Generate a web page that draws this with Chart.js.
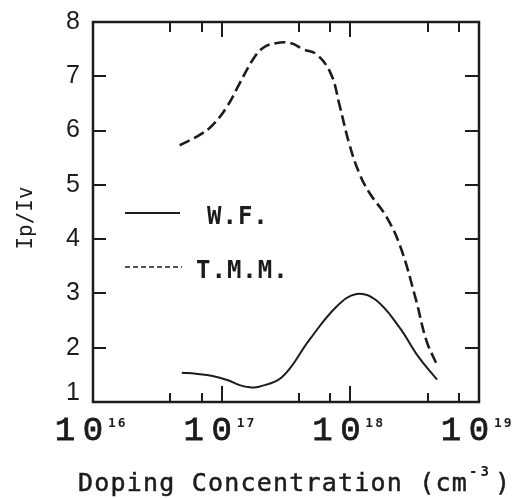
<!DOCTYPE html>
<html>
<head>
<meta charset="utf-8">
<script src="https://cdn.jsdelivr.net/npm/chart.js@4.4.1/dist/chart.umd.min.js"></script>
<style>
  html, body { margin: 0; padding: 0; background: #fff; }
  #wrap { width: 516px; height: 498px; }
</style>
</head>
<body>
<div id="wrap"><canvas id="ratioChart"></canvas></div>
<script>
// W.F. curve (solid)
var wfConc  = [4.9e16, 6.3e16, 8.5e16, 1.12e17, 1.38e17, 1.66e17, 1.95e17, 2.95e17, 4.79e17, 7.76e17, 1.12e18, 1.58e18, 2.4e18, 3.39e18, 4.72e18];
var wfRatio = [1.54,   1.52,   1.48,   1.40,    1.31,    1.27,    1.28,    1.46,    2.14,    2.75,    2.99,    2.88,    2.38,   1.83,    1.41];

// T.M.M. curve (dashed)
var tmmConc  = [4.72e16, 6.76e16, 8.5e16, 1.1e17, 1.38e17, 1.74e17, 2.09e17, 2.63e17, 3.47e17, 4.27e17, 5.5e17, 7.08e17, 8.22e17, 9.77e17, 1.17e18, 1.41e18, 1.91e18, 2.45e18, 3.24e18, 3.89e18, 4.72e18];
var tmmRatio = [5.73,    5.92,    6.10,   6.44,   6.87,    7.30,    7.52,    7.61,    7.61,    7.50,    7.40,   7.04,    6.48,    5.77,    5.22,    4.85,    4.41,    3.86,    2.88,    2.14,    1.68];

// axes
var xDecades = [16, 17, 18, 19];
var xMultipliers = [1, 2, 3, 4, 5, 6, 7, 8, 9];
var yTickLabels = [1, 2, 3, 4, 5, 6, 7, 8];

var xTickValues = [];
xDecades.forEach(function(d) {
    xMultipliers.forEach(function(m) {
        if (d < 19 || m === 1) xTickValues.push(m * Math.pow(10, d));
    });
});

function toPoints(xs, ys) {
    return xs.map(function(x, i) { return { x: x, y: ys[i] }; });
}

var ink = '#1c1c1c';

// frame, inward ticks, labels, legend and titles
var decorPlugin = {
    id: 'decor',
    afterDraw: function(chart) {
        var ctx = chart.ctx;
        var xs = chart.scales.x, ys = chart.scales.y;
        var a = chart.chartArea;
        ctx.save();
        ctx.strokeStyle = ink;
        ctx.fillStyle = ink;

        // frame
        ctx.lineWidth = 2.5;
        ctx.strokeRect(a.left, a.top, a.right - a.left, a.bottom - a.top);

        // x ticks, top and bottom
        ctx.lineWidth = 2;
        xs.ticks.forEach(function(t) {
            var px = Math.round(xs.getPixelForValue(t.value));
            var major = Math.abs(Math.log10(t.value) - Math.round(Math.log10(t.value))) < 1e-6;
            ctx.beginPath();
            ctx.moveTo(px, a.bottom);
            ctx.lineTo(px, a.bottom - (major ? 16 : 9));
            ctx.moveTo(px, a.top);
            ctx.lineTo(px, a.top + (major ? 15 : 10));
            ctx.stroke();
        });

        // y ticks, left and right
        ys.ticks.forEach(function(t) {
            var py = Math.round(ys.getPixelForValue(t.value));
            ctx.beginPath();
            ctx.moveTo(a.left, py);
            ctx.lineTo(a.left + 13, py);
            ctx.moveTo(a.right, py);
            ctx.lineTo(a.right - 14, py);
            ctx.stroke();
        });

        // y tick labels
        ctx.font = '25px "Liberation Sans"';
        ctx.textAlign = 'right';
        ctx.textBaseline = 'middle';
        yTickLabels.forEach(function(v) {
            var py = ys.getPixelForValue(v);
            if (v === 1) py -= 9;
            ctx.fillText(String(v), 80, py);
        });

        // x tick labels: 10^n
        xDecades.forEach(function(d) {
            var px = xs.getPixelForValue(Math.pow(10, d));
            ctx.font = '34px "Liberation Mono"';
            ctx.textAlign = 'center';
            ctx.textBaseline = 'alphabetic';
            ctx.lineWidth = 0.8;
            ctx.fillText('1', px - 28, 440);
            ctx.strokeText('1', px - 28, 440);
            ctx.fillText('0', px, 440);
            ctx.strokeText('0', px, 440);
            ctx.font = 'bold 13px "DejaVu Sans Mono"';
            ctx.textAlign = 'left';
            ctx.letterSpacing = '2px';
            ctx.fillText(String(d), px + 15, 427);
            ctx.letterSpacing = '0px';
        });

        // x title
        ctx.font = '25px "DejaVu Sans Mono"';
        ctx.textAlign = 'left';
        ctx.textBaseline = 'alphabetic';
        ctx.letterSpacing = '1.2px';
        var main = 'Doping Concentration (cm';
        ctx.lineWidth = 0.5;
        ctx.fillText(main, 78, 491);
        ctx.strokeText(main, 78, 491);
        var w = ctx.measureText(main).width;
        ctx.font = 'bold 14px "DejaVu Sans Mono"';
        ctx.letterSpacing = '3px';
        ctx.fillText('-3', 78 + w + 1, 476);
        var w2 = ctx.measureText('-3').width;
        ctx.font = '25px "DejaVu Sans Mono"';
        ctx.letterSpacing = '0px';
        ctx.fillText(')', 78 + w + w2 + 4, 491);
        ctx.strokeText(')', 78 + w + w2 + 4, 491);

        // y title
        ctx.save();
        ctx.translate(32, 218);
        ctx.rotate(-Math.PI / 2);
        ctx.font = '21px "DejaVu Sans Mono"';
        ctx.textAlign = 'center';
        ctx.letterSpacing = '0px';
        ctx.fillText('Ip/Iv', 0, 0);
        ctx.restore();

        // legend
        ctx.lineWidth = 2;
        ctx.beginPath();
        ctx.moveTo(125, 213);
        ctx.lineTo(180, 213);
        ctx.stroke();
        ctx.setLineDash([5, 3]);
        ctx.lineWidth = 1.6;
        ctx.beginPath();
        ctx.moveTo(125, 267);
        ctx.lineTo(182, 267);
        ctx.stroke();
        ctx.setLineDash([]);
        ctx.font = 'bold 24px "DejaVu Sans Mono"';
        ctx.textAlign = 'left';
        ctx.letterSpacing = '1px';
        ctx.fillText('W.F.', 207, 224);
        ctx.fillText('T.M.M.', 196, 278);
        ctx.letterSpacing = '0px';

        ctx.restore();
    }
};

var ctx = document.getElementById('ratioChart').getContext('2d');
var ratioChart = new Chart(ctx, {
    type: 'line',
    data: {
        datasets: [{
            label: 'W.F.',
            data: toPoints(wfConc, wfRatio),
            borderColor: ink,
            borderWidth: 2,
            pointRadius: 0,
            fill: false,
            tension: 0.4
        }, {
            label: 'T.M.M.',
            data: toPoints(tmmConc, tmmRatio),
            borderColor: ink,
            borderWidth: 2.6,
            borderDash: [11, 5],
            pointRadius: 0,
            fill: false,
            tension: 0.4
        }]
    },
    options: {
        responsive: true,
        maintainAspectRatio: false,
        animation: false,
        layout: { padding: { left: 93, right: 37, top: 22, bottom: 96 } },
        plugins: {
            legend: { display: false },
            tooltip: { enabled: false }
        },
        scales: {
            x: {
                type: 'logarithmic',
                display: false,
                min: 1e16,
                max: 1e19,
                afterBuildTicks: function(scale) {
                    scale.ticks = xTickValues.map(function(v) { return { value: v }; });
                }
            },
            y: {
                type: 'linear',
                display: false,
                min: 1,
                max: 8,
                ticks: { stepSize: 1 }
            }
        }
    },
    plugins: [decorPlugin]
});
</script>
</body>
</html>
